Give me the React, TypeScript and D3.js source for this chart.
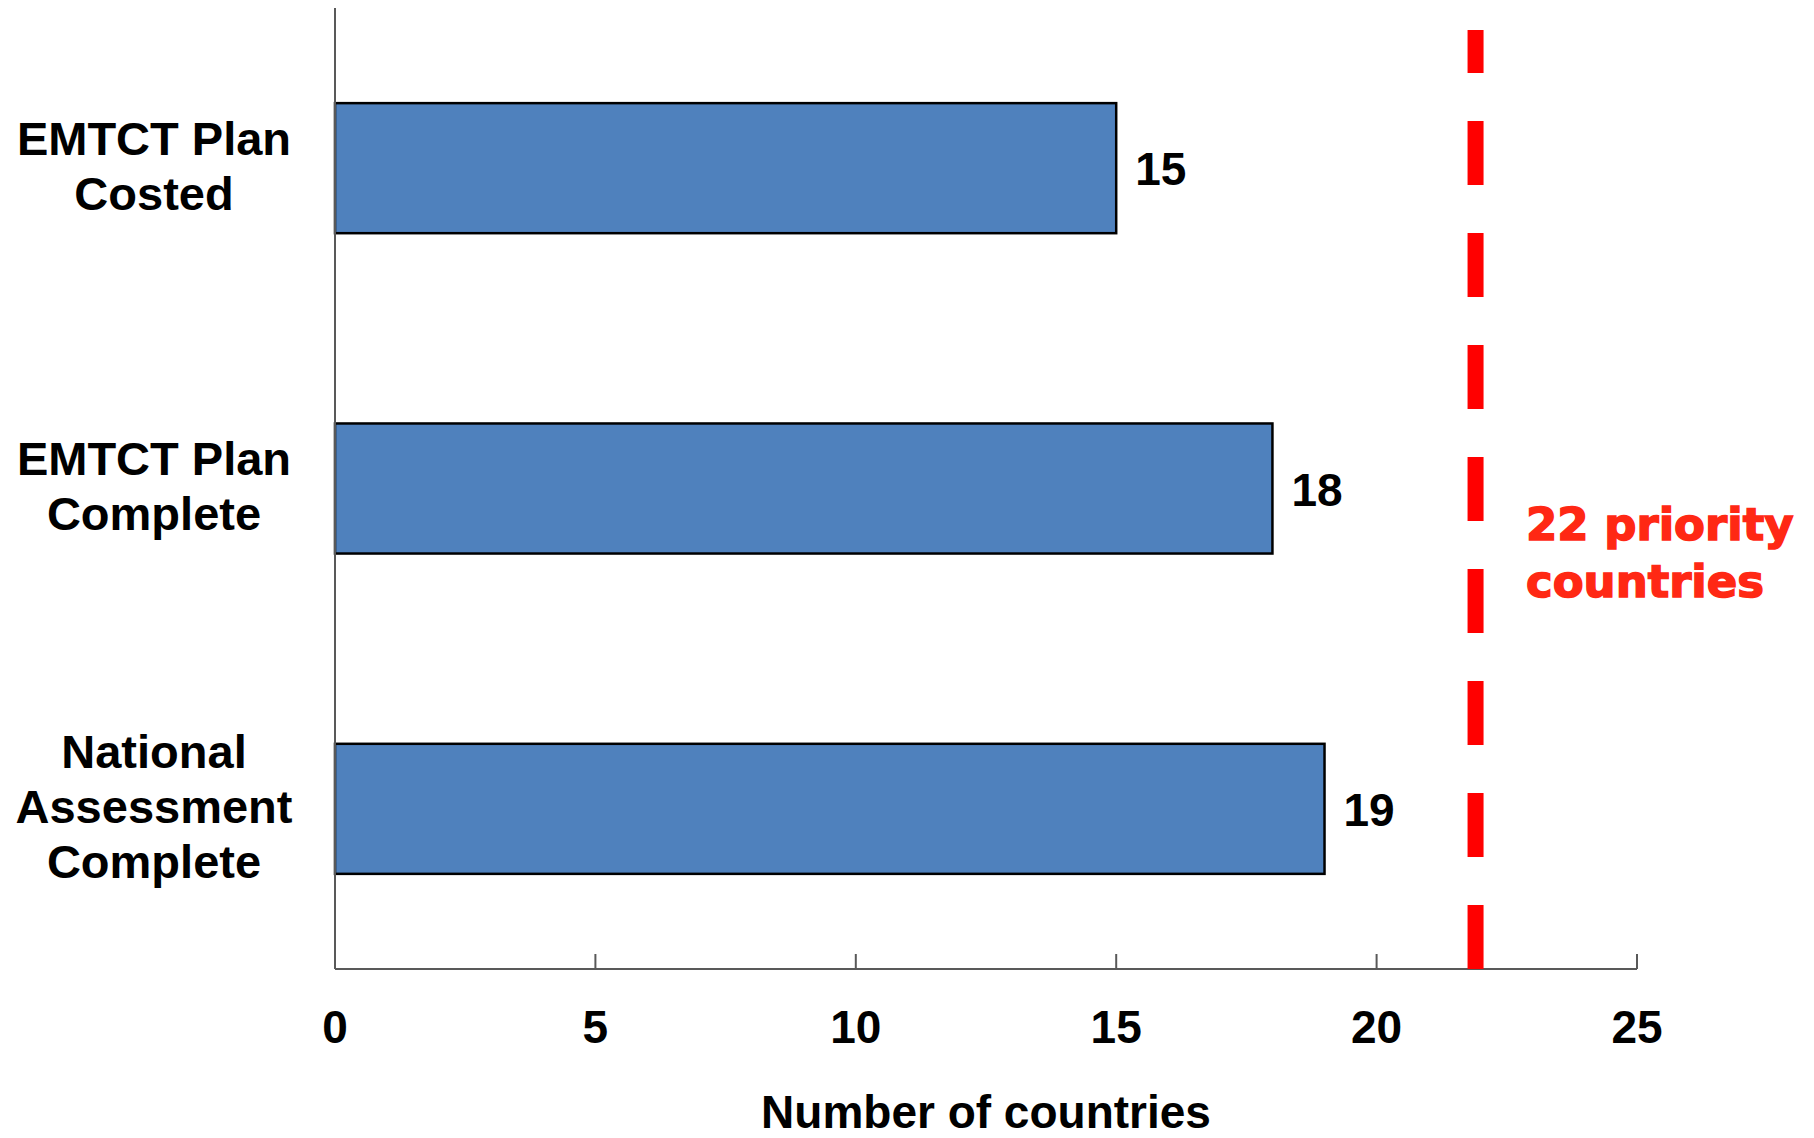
import React from "react";
import * as d3 from "d3";

const categories: string[][] = [
  ["EMTCT Plan", "Costed"],
  ["EMTCT Plan", "Complete"],
  ["National", "Assessment", "Complete"],
];
const values: number[] = [15, 18, 19];
const xTicks: number[] = [0, 5, 10, 15, 20, 25];
const targetPosition = 21.9;
const targetLabel: string[] = ["22 priority", "countries"];
const axisTitle = "Number of countries";

const W = 1814;
const H = 1138;
const margin = { left: 335, right: 177, top: 8, bottom: 169 };

export default function App() {
  const x = d3.scaleLinear().domain([0, 25]).range([margin.left, W - margin.right]);
  const y = d3
    .scaleBand<number>()
    .domain(d3.range(categories.length))
    .range([margin.top, H - margin.bottom])
    .paddingInner(0.594)
    .paddingOuter(0.297);
  const bottom = H - margin.bottom;
  const font = "'Liberation Sans', Arial, sans-serif";
  const axisColor = "#595959";

  return (
    <svg width={W} height={H} style={{ position: "absolute", left: 0, top: 0, background: "#fff" }}>
      {/* bars */}
      {values.map((v, i) => (
        <rect
          key={"b" + i}
          x={x(0)}
          y={y(i)!}
          width={x(v) - x(0)}
          height={y.bandwidth()}
          fill="#4F81BD"
          stroke="#000"
          strokeWidth={2.5}
        />
      ))}
      {/* axes */}
      <line x1={x(0)} x2={x(0)} y1={margin.top} y2={bottom} stroke={axisColor} strokeWidth={2} />
      <line x1={x(0)} x2={x(25)} y1={bottom} y2={bottom} stroke={axisColor} strokeWidth={2} />
      {xTicks.map((t) => (
        <g key={"t" + t}>
          {t > 0 && (
            <line x1={x(t)} x2={x(t)} y1={bottom - 15} y2={bottom} stroke={axisColor} strokeWidth={2} />
          )}
          <text
            x={x(t)}
            y={1043}
            textAnchor="middle"
            fontFamily={font}
            fontWeight="bold"
            fontSize={46}
            fill="#000"
          >
            {t}
          </text>
        </g>
      ))}
      {/* category labels */}
      {categories.map((lines, i) => {
        const c = y(i)! + y.bandwidth() / 2;
        return (
          <text
            key={"c" + i}
            textAnchor="middle"
            fontFamily={font}
            fontWeight="bold"
            fontSize={47}
            fill="#000"
          >
            {lines.map((l, j) => (
              <tspan key={j} x={154} y={c + 14 + (j - (lines.length - 1) / 2) * 55}>
                {l}
              </tspan>
            ))}
          </text>
        );
      })}
      {/* value labels */}
      {values.map((v, i) => (
        <text
          key={"v" + i}
          x={x(v) + 19}
          y={y(i)! + y.bandwidth() / 2 + 17}
          fontFamily={font}
          fontWeight="bold"
          fontSize={46}
          fill="#000"
        >
          {v}
        </text>
      ))}
      {/* target dashed line */}
      <line
        x1={x(targetPosition)}
        x2={x(targetPosition)}
        y1={bottom}
        y2={30}
        stroke="#FF0000"
        strokeWidth={16}
        strokeDasharray="64 48"
      />
      <text
        fontFamily="'DejaVu Sans', sans-serif"
        fontWeight="bold"
        fontSize={45}
        fill="#FF2814"
        stroke="#FF2814"
        strokeWidth={1.5}
      >
        {targetLabel.map((l, j) => (
          <tspan key={j} x={1526} y={540 + j * 57}>
            {l}
          </tspan>
        ))}
      </text>
      {/* axis title */}
      <text
        x={(x(0) + x(25)) / 2}
        y={1128}
        textAnchor="middle"
        fontFamily={font}
        fontWeight="bold"
        fontSize={46}
        fill="#000"
      >
        {axisTitle}
      </text>
    </svg>
  );
}
